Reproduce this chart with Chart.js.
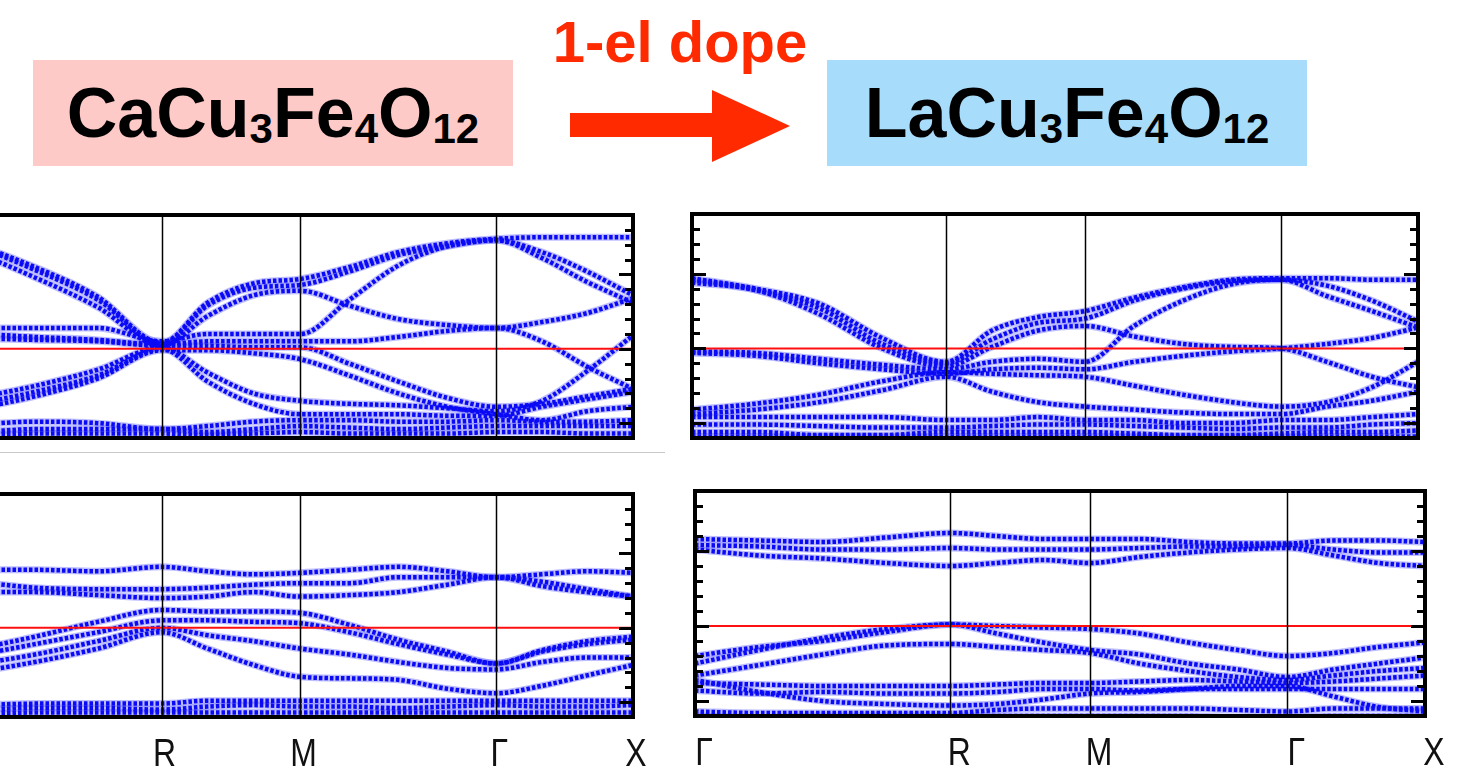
<!DOCTYPE html>
<html>
<head>
<meta charset="utf-8">
<script src="https://cdn.jsdelivr.net/npm/chart.js@4/dist/chart.umd.min.js"></script>
<style>
  body { margin: 0; width: 1464px; height: 782px; overflow: hidden; background: #fff; position: relative;
         font-family: "Liberation Sans", Arial, sans-serif; }
  .box { position: absolute; top: 60px; width: 480px; height: 106px; line-height: 106px; text-align: center;
         font-weight: bold; font-size: 70px; color: #000; }
  .box sub { font-size: 42px; vertical-align: -6px; line-height: 0; }
  .dope { position: absolute; left: 530px; width: 300px; top: 13px; text-align: center; font-weight: bold;
          font-size: 58px; line-height: 58px; color: #ff2a00; }
  .arrow { position: absolute; left: 0; top: 0; }
  .sep { position: absolute; left: 0; top: 452px; width: 665px; height: 1px; background: #c8c8c8; }
  canvas { position: absolute; }
</style>
</head>
<body>
<div class="box" style="left:33px;background:#fdcac7">CaCu<sub>3</sub>Fe<sub>4</sub>O<sub>12</sub></div>
<div class="dope">1-el dope</div>
<svg class="arrow" width="820" height="200"><polygon points="570,113 712,113 712,90 790,126 712,162 712,137 570,137" fill="#ff2a00"/></svg>
<div class="box" style="left:827px;background:#a8dcfb">LaCu<sub>3</sub>Fe<sub>4</sub>O<sub>12</sub></div>
<div class="sep"></div>

<canvas id="tl" width="741" height="239" style="left:-100px;top:207px"></canvas>
<canvas id="tr" width="742" height="240" style="left:684px;top:206px"></canvas>
<canvas id="bl" width="765" height="294" style="left:-100px;top:486px"></canvas>
<canvas id="br" width="777" height="297" style="left:687px;top:483px"></canvas>

<script>
// k-path: high symmetry points and their labels
const kTicks = [0, 254, 393, 589, 726];
const kLabels = ["\u0393", "R", "M", "\u0393", "X"];
// energy tick marks (eV), majors every 0.5
const eTicks = [-0.5, -0.4, -0.3, -0.2, -0.1, 0, 0.1, 0.2, 0.3, 0.4, 0.5, 0.6, 0.7, 0.8];
// k positions where band energies were read
const kPts = [0, 64, 127, 190, 254, 300, 346, 393, 442, 491, 540, 589, 635, 680, 726];

// CaCu3Fe4O12, upper panel (eV)
const caUpBands = [
  [0.74, 0.70, 0.55, 0.35, 0.04, 0.31, 0.44, 0.47, 0.55, 0.65, 0.71, 0.74, 0.75, 0.75, 0.75],
  [0.74, 0.65, 0.48, 0.28, 0.02, 0.22, 0.36, 0.39, 0.29, 0.20, 0.16, 0.14, 0.18, 0.24, 0.34],
  [0.14, 0.14, 0.14, 0.14, 0.05, 0.10, 0.10, 0.10, 0.33, 0.56, 0.69, 0.73, 0.65, 0.52, 0.36],
  [0.10, 0.10, 0.08, 0.06, 0.03, 0.05, 0.05, 0.05, 0.05, 0.08, 0.12, 0.14, 0.05, -0.12, -0.27],
  [0.07, 0.07, 0.06, 0.05, 0.02, 0.02, 0.01, 0.01, -0.10, -0.22, -0.33, -0.39, -0.37, -0.32, -0.27],
  [0.74, 0.69, 0.53, 0.33, 0.03, 0.29, 0.41, 0.43, 0.52, 0.63, 0.69, 0.73, 0.61, 0.45, 0.31],
  [-0.46, -0.34, -0.25, -0.14, 0.01, -0.16, -0.30, -0.35, -0.37, -0.38, -0.40, -0.42, -0.35, -0.15, 0.09],
  [-0.49, -0.38, -0.29, -0.18, 0.00, -0.22, -0.37, -0.44, -0.44, -0.44, -0.45, -0.45, -0.39, -0.34, -0.29],
  [-0.50, -0.41, -0.32, -0.20, -0.01, -0.01, -0.03, -0.07, -0.18, -0.30, -0.39, -0.44, -0.48, -0.42, -0.39],
  [-0.52, -0.51, -0.49, -0.50, -0.54, -0.52, -0.49, -0.48, -0.48, -0.49, -0.49, -0.48, -0.49, -0.49, -0.48],
  [-0.56, -0.56, -0.54, -0.54, -0.54, -0.56, -0.54, -0.52, -0.53, -0.54, -0.53, -0.52, -0.52, -0.52, -0.52],
  [-0.58, -0.58, -0.57, -0.57, -0.57, -0.58, -0.57, -0.56, -0.57, -0.57, -0.57, -0.56, -0.56, -0.57, -0.57]
];

// LaCu3Fe4O12, upper panel (eV)
const laUpBands = [
  [0.47, 0.40, 0.30, 0.07, -0.09, 0.12, 0.21, 0.25, 0.34, 0.41, 0.46, 0.47, 0.47, 0.46, 0.46],
  [0.44, 0.39, 0.23, 0.00, -0.12, 0.01, 0.12, 0.15, 0.08, 0.03, 0.01, 0.00, -0.09, -0.19, -0.26],
  [-0.02, -0.03, -0.07, -0.11, -0.14, -0.09, -0.07, -0.09, 0.15, 0.32, 0.43, 0.46, 0.35, 0.25, 0.14],
  [-0.03, -0.05, -0.10, -0.14, -0.17, -0.14, -0.13, -0.14, -0.09, -0.05, -0.02, 0.00, 0.03, 0.07, 0.14],
  [0.46, 0.39, 0.27, 0.03, -0.10, 0.06, 0.17, 0.20, 0.32, 0.40, 0.45, 0.46, 0.42, 0.32, 0.18],
  [-0.41, -0.37, -0.31, -0.22, -0.16, -0.17, -0.18, -0.19, -0.25, -0.31, -0.36, -0.39, -0.36, -0.26, -0.09],
  [-0.44, -0.41, -0.36, -0.28, -0.19, -0.29, -0.36, -0.39, -0.41, -0.43, -0.44, -0.44, -0.39, -0.35, -0.29],
  [-0.46, -0.46, -0.46, -0.46, -0.48, -0.48, -0.46, -0.48, -0.48, -0.50, -0.50, -0.48, -0.48, -0.46, -0.44],
  [-0.51, -0.51, -0.52, -0.53, -0.53, -0.52, -0.51, -0.51, -0.52, -0.53, -0.54, -0.53, -0.53, -0.51, -0.50],
  [-0.56, -0.56, -0.58, -0.58, -0.56, -0.56, -0.56, -0.56, -0.57, -0.58, -0.58, -0.57, -0.56, -0.56, -0.55],
  [-0.59, -0.59, -0.59, -0.59, -0.59, -0.59, -0.59, -0.59, -0.59, -0.59, -0.59, -0.59, -0.59, -0.59, -0.59]
];

// CaCu3Fe4O12, lower panel (eV)
const caDnBands = [
  [0.39, 0.39, 0.39, 0.38, 0.41, 0.38, 0.36, 0.37, 0.39, 0.41, 0.38, 0.34, 0.36, 0.38, 0.37],
  [0.32, 0.31, 0.27, 0.26, 0.26, 0.27, 0.29, 0.30, 0.30, 0.34, 0.34, 0.34, 0.31, 0.26, 0.21],
  [0.24, 0.24, 0.24, 0.22, 0.20, 0.21, 0.24, 0.21, 0.22, 0.24, 0.29, 0.34, 0.28, 0.24, 0.21],
  [-0.25, -0.15, -0.06, 0.04, 0.12, 0.11, 0.11, 0.10, 0.02, -0.08, -0.16, -0.24, -0.15, -0.09, -0.06],
  [-0.27, -0.19, -0.11, -0.03, 0.05, 0.05, 0.04, 0.03, -0.03, -0.11, -0.18, -0.24, -0.16, -0.11, -0.08],
  [-0.32, -0.25, -0.18, -0.09, 0.00, -0.05, -0.09, -0.14, -0.18, -0.23, -0.27, -0.28, -0.23, -0.20, -0.20],
  [-0.35, -0.30, -0.23, -0.14, -0.03, -0.14, -0.25, -0.33, -0.34, -0.35, -0.41, -0.44, -0.39, -0.32, -0.25],
  [-0.52, -0.52, -0.51, -0.51, -0.51, -0.49, -0.49, -0.49, -0.49, -0.49, -0.49, -0.49, -0.49, -0.49, -0.49],
  [-0.55, -0.55, -0.54, -0.54, -0.55, -0.53, -0.52, -0.53, -0.53, -0.54, -0.53, -0.52, -0.53, -0.53, -0.52],
  [-0.58, -0.58, -0.57, -0.57, -0.57, -0.57, -0.57, -0.57, -0.57, -0.57, -0.57, -0.57, -0.57, -0.57, -0.57]
];

// LaCu3Fe4O12, lower panel (eV)
const laDnBands = [
  [0.58, 0.57, 0.56, 0.59, 0.62, 0.60, 0.58, 0.58, 0.58, 0.56, 0.55, 0.55, 0.57, 0.57, 0.56],
  [0.54, 0.53, 0.51, 0.51, 0.52, 0.51, 0.51, 0.51, 0.52, 0.53, 0.53, 0.54, 0.51, 0.49, 0.49],
  [0.51, 0.47, 0.45, 0.42, 0.40, 0.42, 0.44, 0.42, 0.46, 0.49, 0.51, 0.52, 0.47, 0.42, 0.40],
  [-0.20, -0.14, -0.10, -0.04, 0.01, 0.00, -0.01, -0.02, -0.05, -0.11, -0.16, -0.20, -0.18, -0.14, -0.11],
  [-0.25, -0.16, -0.08, -0.02, 0.01, -0.05, -0.11, -0.16, -0.19, -0.25, -0.29, -0.34, -0.29, -0.25, -0.21],
  [-0.33, -0.26, -0.19, -0.13, -0.12, -0.14, -0.16, -0.18, -0.25, -0.30, -0.34, -0.36, -0.33, -0.30, -0.28],
  [-0.38, -0.39, -0.40, -0.40, -0.40, -0.39, -0.38, -0.38, -0.37, -0.36, -0.37, -0.38, -0.37, -0.35, -0.33],
  [-0.36, -0.44, -0.50, -0.52, -0.53, -0.52, -0.49, -0.45, -0.44, -0.42, -0.40, -0.40, -0.47, -0.54, -0.57],
  [-0.43, -0.45, -0.44, -0.45, -0.45, -0.44, -0.42, -0.42, -0.43, -0.42, -0.42, -0.42, -0.42, -0.42, -0.42],
  [-0.57, -0.58, -0.58, -0.58, -0.58, -0.56, -0.55, -0.55, -0.55, -0.55, -0.56, -0.57, -0.55, -0.55, -0.55],
  [-0.60, -0.61, -0.60, -0.60, -0.60, -0.60, -0.60, -0.60, -0.60, -0.60, -0.61, -0.61, -0.60, -0.60, -0.60]
];

// frame, symmetry lines, inner ticks and k labels
const panelDeco = {
  id: "panelDeco",
  afterDatasetsDraw(chart, args, opts) {
    const { ctx, chartArea: a, scales: { x, y } } = chart;
    ctx.save();
    ctx.strokeStyle = "#000";
    ctx.lineWidth = 1.5;
    kTicks.slice(1, -1).forEach(function (k) {
      const px = Math.round(x.getPixelForValue(k)) + 0.5;
      ctx.beginPath(); ctx.moveTo(px, a.top); ctx.lineTo(px, a.bottom); ctx.stroke();
    });
    ctx.lineWidth = 3;
    eTicks.forEach(function (e) {
      const py = Math.round(y.getPixelForValue(e)) + 0.5;
      const len = Math.abs(e * 10) % 5 === 0 ? 14 : 8;
      ctx.beginPath();
      ctx.moveTo(a.left, py); ctx.lineTo(a.left + len, py);
      ctx.moveTo(a.right, py); ctx.lineTo(a.right - len, py);
      ctx.stroke();
    });
    ctx.lineWidth = 4;
    ctx.strokeRect(a.left, a.top, a.width, a.height);
    if (opts.labels) {
      ctx.fillStyle = "#111";
      ctx.font = '38px "Liberation Sans", Arial, sans-serif';
      ctx.textAlign = "center";
      ctx.textBaseline = "middle";
      kLabels.forEach(function (t, i) {
        const px = x.getPixelForValue(kTicks[i]) + opts.shift;
        ctx.save();
        ctx.translate(px, a.bottom + 39);
        ctx.scale(0.84, 1);
        ctx.fillText(t, 0, 0);
        ctx.restore();
      });
    }
    ctx.restore();
  }
};

function makePanel(id, bands, pad, labels, shift) {
  const datasets = [{
    data: [{ x: kTicks[0], y: 0 }, { x: kTicks[kTicks.length - 1], y: 0 }],
    borderColor: "#ff1010",
    borderWidth: 2,
    pointRadius: 0,
    order: 0
  }];
  bands.forEach(function (b) {
    const pts = b.map(function (e, i) { return { x: kPts[i], y: e }; });
    // dotted core
    datasets.push({
      data: pts,
      borderColor: "#0a0af5",
      borderWidth: 4.5,
      borderDash: [3.5, 2],
      pointRadius: 0,
      cubicInterpolationMode: "monotone",
      order: 1
    });
    // light halo under the dots
    datasets.push({
      data: pts,
      borderColor: "rgba(110,110,255,0.45)",
      borderWidth: 7,
      pointRadius: 0,
      cubicInterpolationMode: "monotone",
      order: 2
    });
  });
  new Chart(document.getElementById(id), {
    type: "line",
    data: { datasets: datasets },
    options: {
      responsive: false,
      animation: false,
      layout: { padding: pad },
      plugins: { legend: { display: false }, tooltip: { enabled: false }, panelDeco: { labels: labels, shift: shift } },
      scales: {
        x: { type: "linear", min: 0, max: 726, display: false },
        y: { min: -0.6, max: 0.9, display: false }
      }
    },
    plugins: [panelDeco]
  });
}

makePanel("tl", caUpBands, { left: 8, right: 8, top: 8, bottom: 8 }, false, 0);
makePanel("tr", laUpBands, { left: 8, right: 8, top: 8, bottom: 8 }, false, 0);
makePanel("bl", caDnBands, { left: 8, right: 32, top: 8, bottom: 63 }, true, 3);
makePanel("br", laDnBands, { left: 8, right: 39, top: 8, bottom: 64 }, true, 9);
</script>
</body>
</html>
